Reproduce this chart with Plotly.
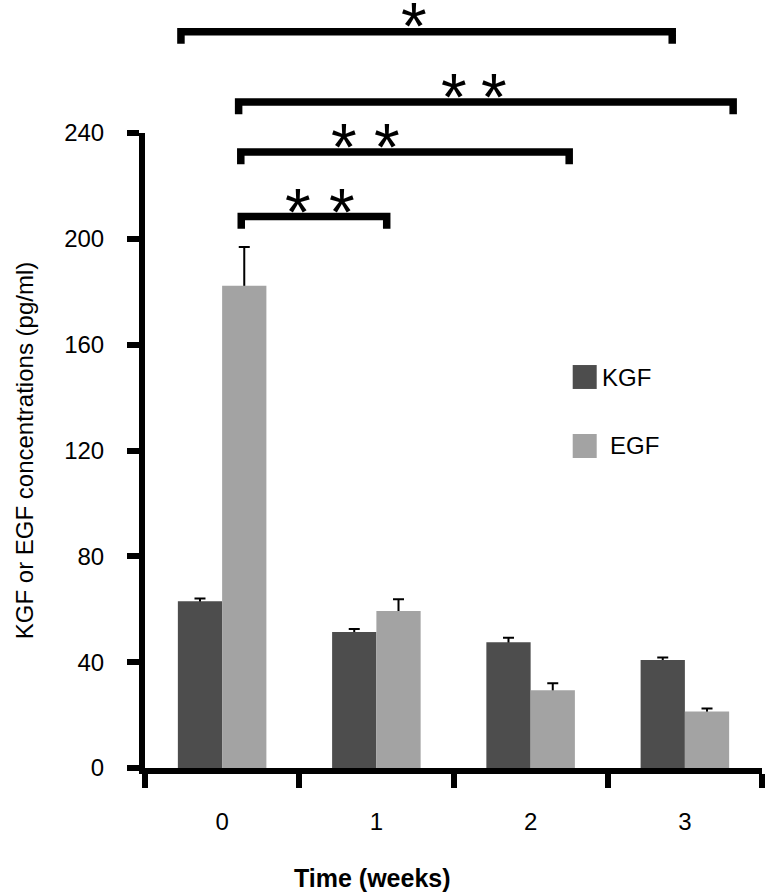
import plotly.graph_objects as go

# ---- data ----
weeks = ["0", "1", "2", "3"]
kgf = [63.0, 51.4, 47.5, 40.8]
kgf_err = [1.1, 1.1, 1.7, 1.0]
egf = [182.3, 59.3, 29.4, 21.4]
egf_err = [14.6, 4.5, 2.6, 1.1]
y_ticks = [0, 40, 80, 120, 160, 200, 240]
series_names = ["KGF", "EGF"]
series_colors = ["#4d4d4d", "#a3a3a3"]

# significance brackets: left end, right end (category units), bar level (pg/ml), star centres
bracket_left = [-0.267, 0.107, 0.121, 0.124]
bracket_right = [2.918, 3.313, 2.250, 1.067]
bracket_level = [278.3, 251.7, 232.8, 208.4]
bracket_stars = [[1.241], [1.503, 1.764], [0.790, 1.066], [0.494, 0.776]]
star_level = [284.6, 257.8, 238.9, 214.3]

YMAX = 240
DROP = 4.6
FONT = "Liberation Sans, Arial, sans-serif"

xpos = list(range(len(weeks)))
boundaries = [i - 0.5 for i in range(len(weeks) + 1)]

fig = go.Figure()

# error-bar carriers (drawn first, hidden below the visible bars so only the upper whisker shows)
for vals, errs, grp in [(kgf, kgf_err, "k"), (egf, egf_err, "e")]:
    fig.add_trace(go.Bar(
        x=xpos, y=vals, offsetgroup=grp, showlegend=False, hoverinfo="skip",
        marker=dict(color="rgba(0,0,0,0)", line=dict(width=0)),
        error_y=dict(type="data", symmetric=False, array=errs, arrayminus=vals,
                     color="black", thickness=2, width=5.5),
    ))

for vals, name, col, grp in [(kgf, series_names[0], series_colors[0], "k"),
                             (egf, series_names[1], series_colors[1], "e")]:
    fig.add_trace(go.Bar(
        x=xpos, y=vals, name=name, offsetgroup=grp, showlegend=False,
        marker=dict(color=col, line=dict(width=0)),
    ))

shapes = []
annotations = []
for xl, xr, lvl, stars, slvl in zip(bracket_left, bracket_right, bracket_level, bracket_stars, star_level):
    yl = lvl / YMAX
    yd = (lvl - DROP) / YMAX
    shapes.append(dict(
        type="path", xref="x", yref="paper",
        path=f"M {xl},{yd} L {xl},{yl} L {xr},{yl} L {xr},{yd}",
        line=dict(color="black", width=7.5),
    ))
    for sx in stars:
        annotations.append(dict(
            x=sx, y=slvl / YMAX, xref="x", yref="paper", text="*", showarrow=False,
            font=dict(family=FONT, size=66, color="black"), yshift=28,
        ))

# legend (drawn manually to match the large swatches)
leg_sq_y = [(0.5969, 0.6346), (0.4882, 0.5260)]
leg_txt = [(0.7374, 0.6142), (0.7504, 0.5071)]
for name, col, (y0, y1), (tx, ty) in zip(series_names, series_colors, leg_sq_y, leg_txt):
    shapes.append(dict(type="rect", xref="paper", yref="paper", x0=0.6932, x1=0.7321,
                       y0=y0, y1=y1, fillcolor=col, line=dict(width=0)))
    annotations.append(dict(x=tx, y=ty, xref="paper", yref="paper", text=name,
                            xanchor="left", yanchor="middle", showarrow=False,
                            font=dict(family=FONT, size=24, color="black")))

annotations.append(dict(x=0.3687, y=-0.1732, xref="paper", yref="paper", text="Time (weeks)",
                        showarrow=False, xanchor="center", yanchor="middle",
                        font=dict(family=FONT, size=25, color="black", weight="bold")))

fig.update_layout(
    width=768, height=894,
    margin=dict(l=145, r=6, t=133, b=126, pad=0, autoexpand=False),
    paper_bgcolor="white", plot_bgcolor="white",
    barmode="group", bargap=0.426, bargroupgap=0,
    showlegend=False,
    font=dict(family=FONT, size=24, color="black"),
    shapes=shapes, annotations=annotations,
    xaxis=dict(
        range=[-0.5, 3.5], tickmode="array", tickvals=xpos, ticktext=weeks,
        ticks="", showline=True, linewidth=6, linecolor="black",
        showgrid=False, zeroline=False, ticklabelstandoff=27, automargin=False,
        tickfont=dict(family=FONT, size=24, color="black"),
        minor=dict(tickmode="array", tickvals=boundaries, ticks="outside",
                   ticklen=14, tickwidth=6, tickcolor="black", showgrid=False),
    ),
    yaxis=dict(
        range=[0, YMAX], tickmode="array", tickvals=y_ticks,
        ticks="outside", ticklen=12, tickwidth=6, tickcolor="black",
        showline=True, linewidth=6, linecolor="black",
        showgrid=False, zeroline=False, ticklabelstandoff=18, automargin=False,
        tickfont=dict(family=FONT, size=24, color="black"),
        title=dict(text="KGF or EGF concentrations (pg/ml)", standoff=26,
                   font=dict(family=FONT, size=24, color="black")),
    ),
)

fig.write_html("out.html", config={"displayModeBar": False},
               post_script="document.body.style.margin = '0';")
